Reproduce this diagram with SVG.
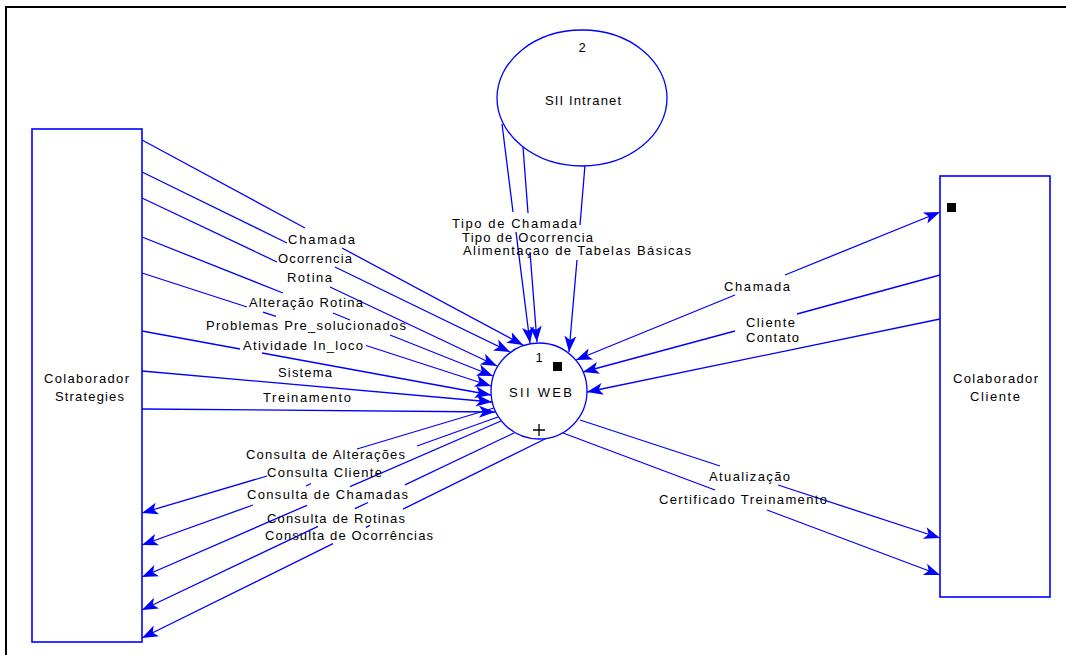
<svg xmlns="http://www.w3.org/2000/svg" width="1066" height="655" viewBox="0 0 1066 655">
  <style>
    .frame { stroke: #000; stroke-width: 2; fill: none; }
    .entity { fill: #fff; stroke: #0000ff; stroke-width: 1.6; }
    .process { fill: #fff; stroke: #0000ff; stroke-width: 1.3; }
    .flow { fill: none; stroke: #0000ff; stroke-width: 1.3; marker-end: url(#arrow); }
    .both { marker-start: url(#arrow); }
    text { font-family: "Liberation Sans", Arial, sans-serif; font-size: 13px; fill: #000; }
    .c { text-anchor: middle; }
    .mark { fill: #000; }
    .plus { stroke: #000; stroke-width: 1.3; }
  </style>
  <defs>
    <marker id="arrow" viewBox="-17 -7 18 14" refX="0" refY="0" markerWidth="18" markerHeight="14" markerUnits="userSpaceOnUse" orient="auto-start-reverse">
      <path d="M0,0 L-16,-6 L-12,0 L-16,6 Z" fill="#0000ff"/>
    </marker>
  </defs>

  <rect width="1066" height="655" fill="#fff"/>
  <path class="frame" d="M6,655 L6,7 L1066,7"/>

  <!-- data flows -->
  <g id="connectors">
    <!-- Colaborador Strategies -> SII WEB -->
    <path class="flow" d="M142,140 L305,228 M342,248 L523,345"/>
    <path class="flow" d="M142,172 L287,243 M335,267 L510,352"/>
    <path class="flow" d="M142,198 L277,262 M330,287 L497,366"/>
    <path class="flow" d="M142,237 L283,293 M333,313 L350,320 M390,335 L493,376"/>
    <path class="flow" d="M142,273 L247,307 M263,312.2 L276,316.4 M366,345.5 L491,386"/>
    <path class="flow" d="M142,331 L240,349 M262,353 L491,395"/>
    <path class="flow" d="M142,371 L492,402"/>
    <path class="flow" d="M142,409 L495,412"/>
    <!-- SII WEB -> Colaborador Strategies -->
    <path class="flow" d="M494,408 L357,449 M267,476 L142,513"/>
    <path class="flow" d="M498,417 L417,446 M311,483.5 L306,486 M253,505 L142,545"/>
    <path class="flow" d="M501,421 L350,486.6 M307,505.3 L142,577"/>
    <path class="flow" d="M514,433 L405,484.9 M368,502.5 L355,508.7 M318,526.3 L142,610"/>
    <path class="flow" d="M547,438 L403,509.1 M370,525.4 L366,527.4 M333,543.7 L142,638"/>
    <!-- SII Intranet -> SII WEB -->
    <path class="flow" d="M502,124 L513,212 M516,232 L530,343"/>
    <path class="flow" d="M523,147 L528,213 M530,252 L537,342"/>
    <path class="flow" d="M585,165 L580,225 M577,260 L569,352"/>
    <!-- Colaborador Cliente <-> SII WEB -->
    <path class="flow both" d="M940,212 L785,275 M735,295 L576,360"/>
    <path class="flow" d="M940,275 L797,314 M735,331 L583,372"/>
    <path class="flow" d="M940,319 L587,392"/>
    <path class="flow" d="M580,420 L720,466 M778,485 L940,538"/>
    <path class="flow" d="M563,433 L715,490 M767,510 L940,575"/>
  </g>

  <!-- flow labels -->
  <g id="flow-labels">
    <text x="288" y="244" textLength="67" lengthAdjust="spacing">Chamada</text>
    <text x="278" y="263" textLength="74" lengthAdjust="spacing">Ocorrencia</text>
    <text x="287" y="282" textLength="45" lengthAdjust="spacing">Rotina</text>
    <text x="249" y="307" textLength="114" lengthAdjust="spacing">Alteração Rotina</text>
    <text x="206" y="330" textLength="200" lengthAdjust="spacing">Problemas Pre_solucionados</text>
    <text x="243" y="350" textLength="120" lengthAdjust="spacing">Atividade In_loco</text>
    <text x="278" y="377" textLength="54" lengthAdjust="spacing">Sistema</text>
    <text x="263" y="402" textLength="88" lengthAdjust="spacing">Treinamento</text>
    <text x="246" y="459" textLength="159" lengthAdjust="spacing">Consulta de Alterações</text>
    <text x="267" y="477" textLength="115" lengthAdjust="spacing">Consulta Cliente</text>
    <text x="247" y="499" textLength="161" lengthAdjust="spacing">Consulta de Chamadas</text>
    <text x="267" y="523" textLength="138" lengthAdjust="spacing">Consulta de Rotinas</text>
    <text x="265" y="540" textLength="168" lengthAdjust="spacing">Consulta de Ocorrências</text>
    <text x="452" y="228" textLength="125" lengthAdjust="spacing">Tipo de Chamada</text>
    <text x="462" y="242" textLength="131" lengthAdjust="spacing">Tipo de Ocorrencia</text>
    <text x="463" y="255" textLength="228" lengthAdjust="spacing">Alimentaçao de Tabelas Básicas</text>
    <text x="724" y="290.5" textLength="66" lengthAdjust="spacing">Chamada</text>
    <text x="746" y="327" textLength="49" lengthAdjust="spacing">Cliente</text>
    <text x="746" y="342" textLength="53" lengthAdjust="spacing">Contato</text>
    <text x="709" y="481" textLength="81" lengthAdjust="spacing">Atualização</text>
    <text x="659" y="504" textLength="168" lengthAdjust="spacing">Certificado Treinamento</text>
  </g>

  <!-- external entity: Colaborador Strategies -->
  <g id="colaborador-strategies">
    <rect class="entity" x="32" y="129" width="110" height="513"/>
    <text x="44" y="383" textLength="85" lengthAdjust="spacing">Colaborador</text>
    <text x="55" y="401" textLength="69" lengthAdjust="spacing">Strategies</text>
  </g>

  <!-- external entity: Colaborador Cliente -->
  <g id="colaborador-cliente">
    <rect class="entity" x="940" y="176" width="110" height="421"/>
    <rect class="mark" x="947" y="203" width="9" height="9"/>
    <text x="953" y="383" textLength="85" lengthAdjust="spacing">Colaborador</text>
    <text x="970" y="401" textLength="50" lengthAdjust="spacing">Cliente</text>
  </g>

  <!-- process 2: SII Intranet -->
  <g id="sii-intranet">
    <ellipse class="process" cx="582" cy="98" rx="85" ry="68"/>
    <text class="c" x="582" y="52">2</text>
    <text x="545" y="104.5" textLength="76" lengthAdjust="spacing">SII Intranet</text>
  </g>

  <!-- process 1: SII WEB -->
  <g id="sii-web">
    <circle class="process" cx="539" cy="391" r="48"/>
    <text class="c" x="539" y="362">1</text>
    <rect class="mark" x="553" y="362" width="9" height="9"/>
    <text x="509" y="397" textLength="63" lengthAdjust="spacing">SII WEB</text>
    <path class="plus" d="M533,430 H545 M539,424 V436"/>
  </g>
</svg>
